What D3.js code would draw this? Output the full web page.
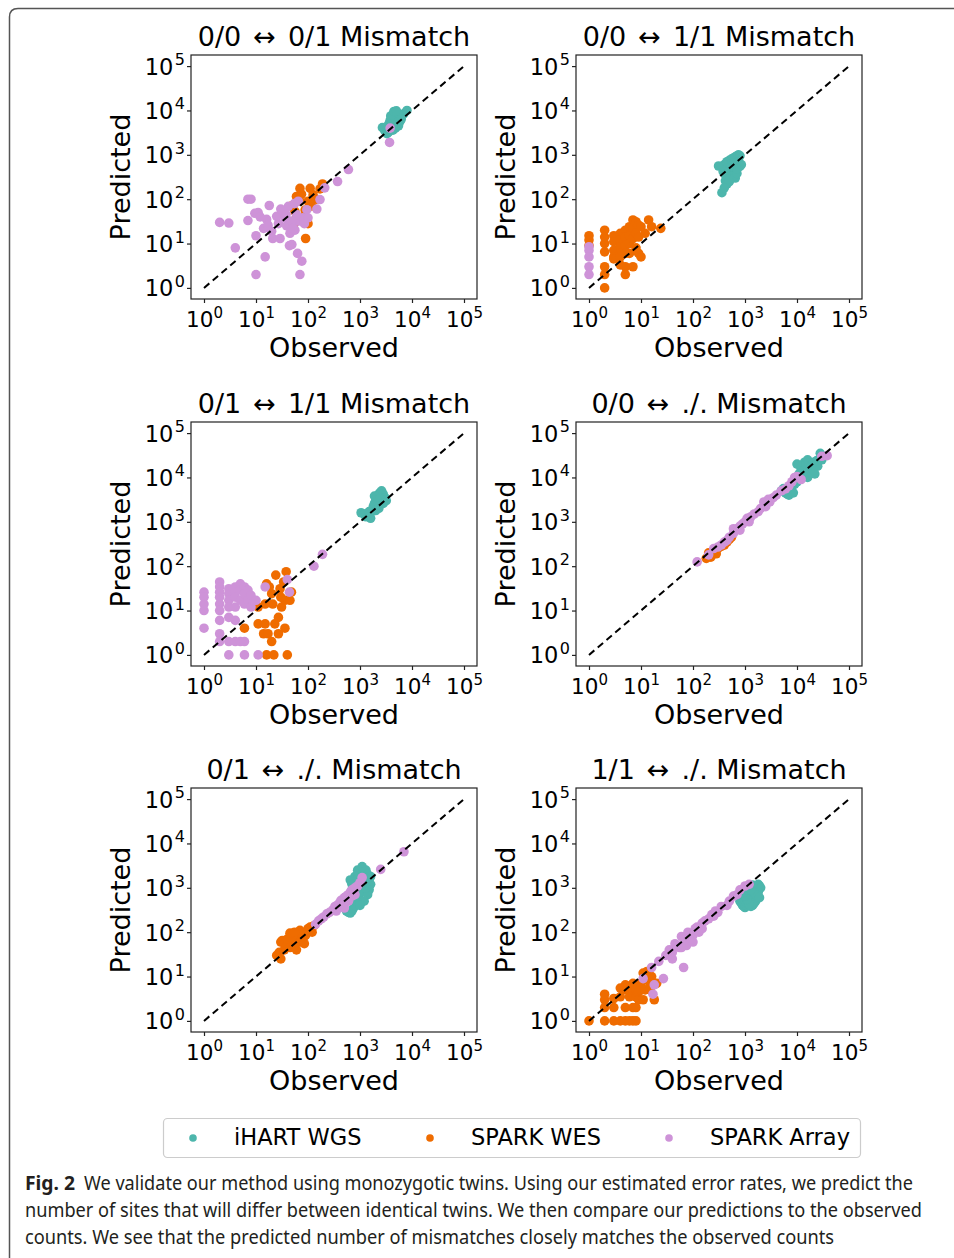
<!DOCTYPE html>
<html>
<head>
<meta charset="utf-8">
<script src="https://cdn.jsdelivr.net/npm/d3@7"></script>
<style>
  body { margin: 0; background: #fff; }
  text { font-family: "DejaVu Sans", sans-serif; fill: #000; }
  .cap { font-family: "Noto Sans", "Open Sans", sans-serif; fill: #231f20; }
</style>
</head>
<body>
<svg id="fig" width="954" height="1258"></svg>
<script>
// each point is [observed, predicted]
const seriesNames = ["iHART WGS", "SPARK WES", "SPARK Array"];
const colors = ["#4DB6AC", "#EF6C00", "#CE93D8"];
const titleLeft = ["0/0", "0/0", "0/1", "0/0", "0/1", "1/1"];
const titleRight = ["0/1", "1/1", "1/1", "./.", "./.", "./."];
const tickExps = [0, 1, 2, 3, 4, 5];

// 0/0 <-> 0/1
const wgs1 = [[3000,3500],[3200,4200],[3400,3800],[3600,5000],[3800,6000],[4000,5500],[4200,7000],[4400,8500],[4600,9200],[4800,8000],[5000,7500],[5200,6500],[5500,6000],[5800,5500],[6000,7000],[6500,7800],[7000,8500],[8000,10000],[4500,4500],[5000,5000],[5500,4500],[4000,4000],[3500,3200],[4300,3600],[4700,6200],[5300,8500],[3900,7500],[4500,9500],[5000,9800],[6200,6300],[4100,5000],[3300,3000],[4800,4000],[2700,4100]];
const wes1 = [[70,175],[110,175],[190,220],[60,115],[48,70],[58,35],[88,57],[100,28],[90,13],[125,125],[145,100],[70,90],[56,53],[85,41],[118,70],[52,24],[75,130],[100,90],[170,170]];
const arr1 = [[2,30],[3,29],[4,8],[7,100],[8,100],[7,33],[10,2],[15,5],[9.5,48],[11,50],[10,15],[14,22],[18,72],[16,35],[20,19],[21,13],[25,41],[27,28],[29,13],[33,53],[36,38],[39,25],[42,69],[45,17],[49,9.5],[44,9],[56,20],[65,32],[65,90],[63,6],[76,4],[70,2],[80,38],[95,58],[100,38],[148,60],[170,98],[210,180],[370,250],[600,465],[3800,4000],[3700,1900],[12,40],[17,26],[30,60],[38,45],[55,80],[60,45],[48,32],[52,22],[85,28]];

// 0/0 <-> 1/1
const wgs2 = [[360,140],[310,560],[400,600],[450,700],[500,750],[550,800],[600,850],[650,900],[700,950],[750,1000],[800,950],[450,500],[500,450],[550,400],[600,350],[650,300],[700,380],[480,300],[420,260],[450,220],[500,250],[550,550],[650,600],[750,700],[800,550],[850,600],[380,420],[420,350],[600,650],[700,480],[400,180]];
const wes2 = [[1,15],[1,12],[1,9],[2,20],[2,14],[2,10],[2,6.5],[2,3],[2,2],[2,1],[3,15],[3,11],[3,7],[3,5],[3,4.5],[4,17],[4,12],[4,8.5],[4,6],[4,5],[4,3.3],[5,20],[5,14],[5,9],[5,6],[5,3],[5,2],[6,24],[6,15],[6,10],[6,6],[7,34],[7,22],[7,13],[7,3],[8,31],[8,17],[8,8],[9,26],[9,14],[9,6],[10,24],[10,5],[12,17],[14,34],[16,24],[24,22]];
const arr2 = [[1,8.5],[1,7],[1,5],[1,3],[1,2]];

// 0/1 <-> 1/1
const wgs3 = [[1050,1600],[1200,1500],[1300,1300],[1500,1400],[1700,1700],[1800,2200],[1900,2600],[2000,3000],[2100,3500],[2200,4000],[2400,4500],[2600,5000],[2800,4200],[3000,3500],[3200,3000],[2500,2500],[2300,2000],[2000,1800],[1600,1200],[2700,3000],[2200,2800],[1900,3800],[2400,3300],[2800,2600],[1500,1700]];
const wes3 = [[38,75],[24,63],[16,40],[20,24],[29,31],[36,17],[45,17],[11,12],[15,14],[21,14],[31,12],[27,7],[23,5],[11,5],[15,5],[14,3],[17,3],[27,3],[36,4],[20,2],[16,1],[22,1],[40,1],[6,4],[30,20],[48,26],[18,34],[34,44]];
const arr3 = [[1,26],[1,20],[1,14],[1,10],[1,4],[2,44],[2,34],[2,26],[2,20],[2,14],[2,10],[2,6],[2,3],[2,2],[3,31],[3,24],[3,17],[3,12],[3,7],[3,2],[3,1],[4,34],[4,26],[4,20],[4,12],[4,6],[4,2],[5,40],[5,29],[5,17],[5,2],[6,34],[6,24],[6,14],[6,2],[6,1],[7,29],[7,17],[8,22],[8,12],[10,17],[11,1],[15,34],[40,50],[44,26],[130,100],[190,185]];

// 0/0 <-> ./.
const wgs4 = [[5000,5000],[5500,5600],[6000,4500],[6500,4200],[7000,4000],[7500,5000],[8000,6500],[9000,7000],[10000,8000],[11000,12000],[12000,15000],[13000,18000],[14000,22000],[15000,20000],[16000,25000],[17000,21000],[18000,16000],[20000,14000],[22000,12000],[25000,18000],[28000,35000],[30000,25000],[12000,11000],[14000,12000],[16000,10000],[19000,19000],[21000,22000],[10000,20000],[24000,24000],[8500,4500]];
const wes4 = [[180,150],[200,200],[230,180],[260,220],[300,250],[350,280],[400,300],[450,350],[500,400],[550,450],[220,160],[280,190]];
const arr4 = [[120,125],[200,180],[250,250],[300,270],[350,300],[400,350],[450,380],[500,450],[600,550],[700,700],[800,800],[900,900],[1000,1000],[1100,1200],[1300,1300],[1500,1500],[1800,1700],[2000,2000],[2300,2800],[2500,2200],[3000,2800],[3500,3500],[4000,4000],[5000,5000],[6000,5500],[7000,6500],[8000,8000],[9000,10000],[10000,10500],[12000,9000],[30000,30000],[38000,31000],[800,650],[600,700],[1200,1000],[2800,3200]];

// 0/1 <-> ./.
const wgs5 = [[550,300],[600,280],[650,270],[700,300],[750,350],[800,400],[850,500],[900,600],[950,700],[1000,800],[1050,1000],[1100,1200],[1150,1500],[1200,1800],[1000,2200],[900,2500],[1100,3000],[1300,2500],[1400,2000],[1500,1500],[1600,1200],[1500,900],[1400,700],[1200,500],[1000,400],[700,1200],[650,1500],[800,1800],[900,1600],[700,900],[600,600],[1300,1000],[1600,1800]];
const wes5 = [[25,30],[28,35],[30,60],[32,65],[35,55],[40,50],[45,45],[50,70],[55,80],[60,90],[65,100],[70,110],[75,90],[80,70],[90,85],[100,120],[110,130],[120,100],[130,140],[60,40],[50,60],[40,70],[45,95],[70,60],[85,55],[35,40],[30,25],[55,100]];
const arr5 = [[140,150],[160,180],[180,200],[200,220],[230,260],[260,280],[300,320],[330,380],[360,400],[400,450],[430,520],[460,500],[500,600],[550,650],[600,700],[650,800],[700,900],[750,850],[800,1000],[900,1100],[1000,1300],[1100,1700],[800,700],[700,650],[600,500],[2500,2600],[7000,6500],[350,300],[450,400],[500,350]];

// 1/1 <-> ./.
const wgs6 = [[800,500],[850,450],[900,400],[950,380],[1000,360],[1050,400],[1100,450],[1150,500],[1200,600],[1300,700],[1400,800],[1500,900],[1600,1000],[1700,1100],[1800,1200],[1900,1100],[2000,1000],[1800,800],[1700,600],[1600,500],[1500,450],[1400,400],[1300,380],[1200,420],[1100,550],[1000,650],[950,800],[1050,900],[1200,1000],[1400,1150],[1600,700],[1900,600],[1300,900]];
const wes6 = [[1,1],[2,1],[2,2],[2,3],[2,4],[3,1],[3,2],[3,3.2],[4,1],[4,3.5],[4,5.5],[5,1],[5,2],[5,5],[5,6.5],[6,1],[6,3.5],[6,6],[7,1],[7,2],[7,4],[7,7],[8,1],[8,2],[8,3.5],[8,5],[9,4.5],[9,3],[10,5],[10,7],[11,12],[11,3],[12,8.5],[12,5],[13,13],[15,7],[15,5],[16,10],[18,7],[18,3],[20,7]];
const arr6 = [[11,9],[17,4],[18,6.5],[16,16],[27,9],[22,22],[30,30],[40,35],[45,55],[50,50],[55,45],[60,80],[66,16],[70,70],[75,50],[80,100],[90,90],[100,85],[110,120],[120,130],[130,100],[150,160],[170,180],[200,200],[230,250],[270,300],[300,280],[350,380],[450,400],[500,500],[600,650],[700,700],[800,900],[1000,1100],[1200,1200],[150,120],[100,60],[60,45],[40,25],[35,40],[250,230]];

const panelData = [
  [wgs1, wes1, arr1], [wgs2, wes2, arr2], [wgs3, wes3, arr3],
  [wgs4, wes4, arr4], [wgs5, wes5, arr5], [wgs6, wes6, arr6]
];

const captionBold = "Fig. 2";
const captionLines = [
  "We validate our method using monozygotic twins. Using our estimated error rates, we predict the",
  "number of sites that will differ between identical twins. We then compare our predictions to the observed",
  "counts. We see that the predicted number of mismatches closely matches the observed counts"
];

const svg = d3.select("#fig");

// outer figure frame (left and top only, rounded corner)
svg.append("path")
  .attr("d", "M9.5,1258 V17 Q9.5,8.5 18,8.5 H954")
  .attr("fill", "none")
  .attr("stroke", "#555")
  .attr("stroke-width", 1.5);

const colLeft = [191, 576],
  rowTop = [55, 422, 788],
  axW = 286,
  axH = 244;
const lo = Math.pow(10, -0.25),
  hi = Math.pow(10, 5.25);

panelData.forEach((series, i) => {
  const left = colLeft[i % 2];
  const top = rowTop[Math.floor(i / 2)];
  const x = d3.scaleLog().domain([lo, hi]).range([left, left + axW]);
  const y = d3.scaleLog().domain([lo, hi]).range([top + axH, top]);
  const g = svg.append("g");

  series.forEach((pts, k) => {
    g.append("g")
      .selectAll("circle")
      .data(pts)
      .join("circle")
      .attr("cx", (d) => x(d[0]))
      .attr("cy", (d) => y(d[1]))
      .attr("r", 4.8)
      .attr("fill", colors[k]);
  });

  g.append("line")
    .attr("x1", x(1)).attr("y1", y(1))
    .attr("x2", x(1e5)).attr("y2", y(1e5))
    .attr("stroke", "#000")
    .attr("stroke-width", 2)
    .attr("stroke-dasharray", "7,4.5");

  g.append("rect")
    .attr("x", left).attr("y", top)
    .attr("width", axW).attr("height", axH)
    .attr("fill", "none")
    .attr("stroke", "#222")
    .attr("stroke-width", 1.2);

  const tickVals = tickExps.map((e) => Math.pow(10, e));

  const xAxis = g.append("g")
    .attr("transform", `translate(0,${top + axH})`)
    .call(d3.axisBottom(x).tickValues(tickVals).tickSize(4).tickSizeOuter(0));
  xAxis.select(".domain").remove();
  xAxis.selectAll(".tick line").attr("stroke", "#222").attr("stroke-width", 1.2);
  xAxis.selectAll(".tick text").each(function (d, j) {
    const t = d3.select(this);
    t.text("10").attr("y", 28).attr("dy", null)
      .attr("font-size", 21.5).attr("fill", "#000");
    t.append("tspan").attr("dy", -9).attr("font-size", 15).text(tickExps[j]);
  });

  const yAxis = g.append("g")
    .attr("transform", `translate(${left},0)`)
    .call(d3.axisLeft(y).tickValues(tickVals).tickSize(4).tickSizeOuter(0));
  yAxis.select(".domain").remove();
  yAxis.selectAll(".tick line").attr("stroke", "#222").attr("stroke-width", 1.2);
  yAxis.selectAll(".tick text").each(function (d, j) {
    const t = d3.select(this);
    t.text("10").attr("x", -6).attr("y", 8).attr("dy", null)
      .attr("font-size", 22.5).attr("fill", "#000");
    t.append("tspan").attr("dx", 1.5).attr("dy", -9.5).attr("font-size", 16).text(tickExps[j]);
  });

  const title = g.append("text")
    .attr("x", left + axW / 2).attr("y", top - 9)
    .attr("text-anchor", "middle")
    .attr("font-size", 27);
  title.append("tspan").text(titleLeft[i]);
  title.append("tspan").attr("dx", 12).text("\u2194");
  title.append("tspan").attr("dx", 12).text(titleRight[i] + " Mismatch");

  g.append("text")
    .attr("x", left + axW / 2).attr("y", top + axH + 58)
    .attr("text-anchor", "middle")
    .attr("font-size", 27)
    .text("Observed");

  g.append("text")
    .attr("transform", `translate(${left - 61},${top + axH / 2}) rotate(-90)`)
    .attr("text-anchor", "middle")
    .attr("font-size", 27)
    .text("Predicted");
});

// legend
const leg = svg.append("g");
leg.append("rect")
  .attr("x", 163.5).attr("y", 1118.5)
  .attr("width", 697).attr("height", 39)
  .attr("rx", 4)
  .attr("fill", "#fff")
  .attr("stroke", "#ccc")
  .attr("stroke-width", 1.2);
const legX = [193, 430, 669];
seriesNames.forEach((name, k) => {
  leg.append("circle")
    .attr("cx", legX[k]).attr("cy", 1138)
    .attr("r", 3.8)
    .attr("fill", colors[k]);
  leg.append("text")
    .attr("x", legX[k] + 41).attr("y", 1145)
    .attr("font-size", 22.5)
    .text(name);
});

// caption
svg.append("text")
  .attr("class", "cap")
  .attr("x", 25).attr("y", 1190)
  .attr("font-size", 19)
  .attr("font-weight", "bold")
  .attr("textLength", 50)
  .attr("lengthAdjust", "spacingAndGlyphs")
  .text(captionBold);
const capX = [84, 25, 25],
  capW = [829, 897, 809],
  capY = [1190, 1217, 1244];
captionLines.forEach((line, i) => {
  svg.append("text")
    .attr("class", "cap")
    .attr("x", capX[i]).attr("y", capY[i])
    .attr("font-size", 19)
    .attr("textLength", capW[i])
    .attr("lengthAdjust", "spacingAndGlyphs")
    .text(line);
});
</script>
</body>
</html>
